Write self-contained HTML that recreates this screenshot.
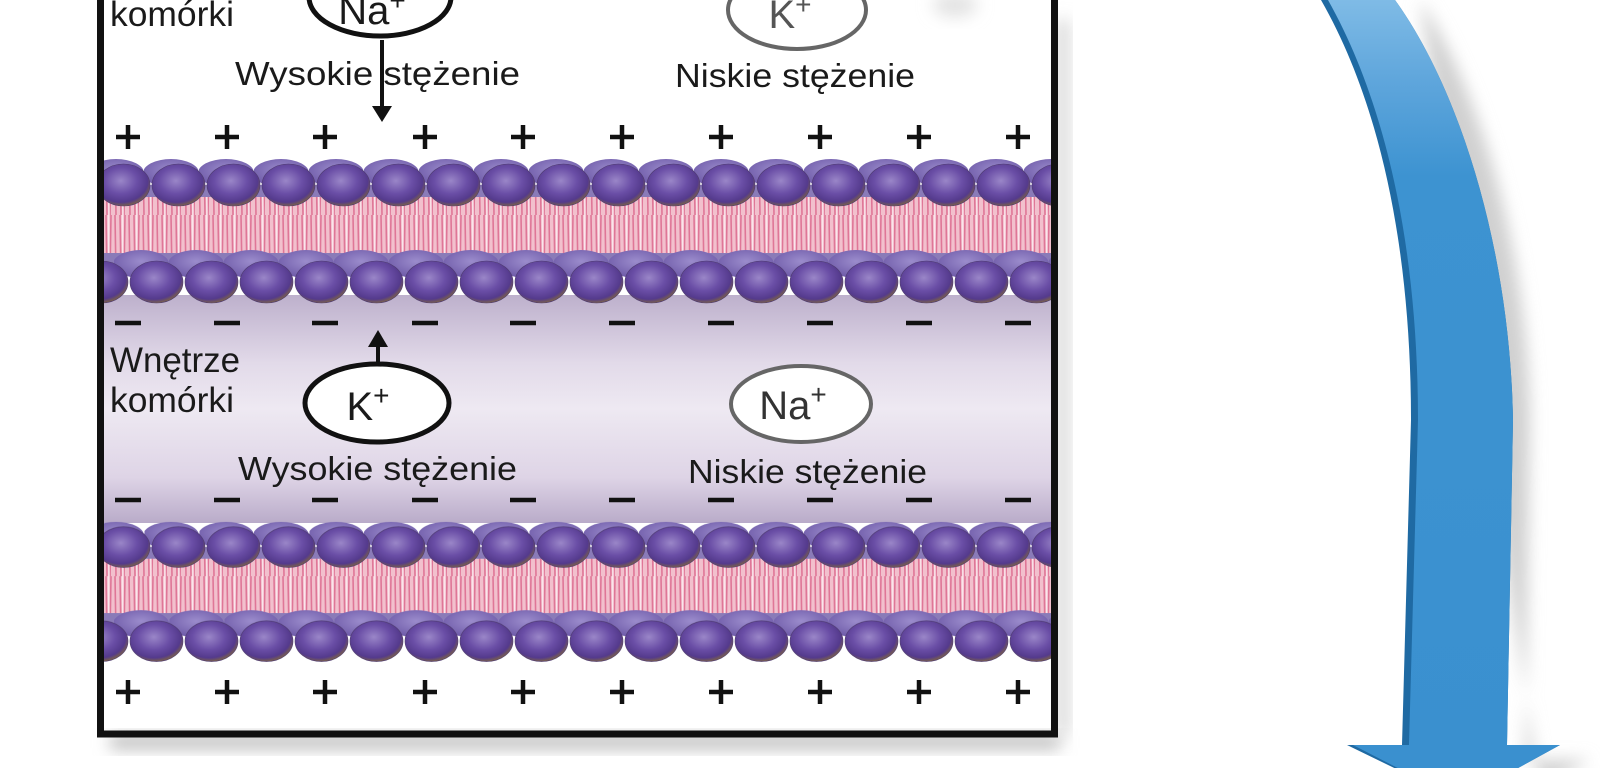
<!DOCTYPE html>
<html><head><meta charset="utf-8"><style>
html,body{margin:0;padding:0;background:#fff;width:1600px;height:768px;overflow:hidden}
svg{display:block}
text{font-family:"Liberation Sans",sans-serif;fill:#1a1a1a}
</style></head><body>
<svg width="1600" height="768" viewBox="0 0 1600 768" xmlns="http://www.w3.org/2000/svg">
<defs>
<radialGradient id="head" cx="0.45" cy="0.4" r="0.62">
<stop offset="0" stop-color="#9a86c8"/><stop offset="0.5" stop-color="#6a4ea6"/><stop offset="0.82" stop-color="#543a8c"/><stop offset="1" stop-color="#80663e"/>
</radialGradient>
<radialGradient id="headb" cx="0.5" cy="0.4" r="0.6">
<stop offset="0" stop-color="#9b8ccc"/><stop offset="1" stop-color="#6e5aa8"/>
</radialGradient>
<linearGradient id="inner" x1="0" y1="0" x2="0" y2="1">
<stop offset="0" stop-color="#bdb0cc"/><stop offset="0.3" stop-color="#e2dae9"/><stop offset="0.5" stop-color="#eee9f2"/><stop offset="0.8" stop-color="#ded4e6"/><stop offset="1" stop-color="#b9abc9"/>
</linearGradient>
<linearGradient id="blue" x1="0" y1="0" x2="0" y2="1">
<stop offset="0" stop-color="#7fbbe6"/><stop offset="0.1" stop-color="#5fa6dc"/><stop offset="0.22" stop-color="#3d93d1"/><stop offset="1" stop-color="#3a90cf"/>
</linearGradient>
<pattern id="tails" x="0" y="0" width="14" height="60" patternUnits="userSpaceOnUse">
<rect width="14" height="60" fill="#f2c0cd"/>
<path d="M2 0 L3 60 M7 0 L6 60 M11 0 L12 60" stroke="#df7697" stroke-width="1.6"/>
<path d="M4.5 0 L5 60" stroke="#fbe6ec" stroke-width="1.5"/>
</pattern>
<pattern id="hb" x="0" y="0" width="55" height="30" patternUnits="userSpaceOnUse">
<ellipse cx="27" cy="15" rx="28" ry="14" fill="url(#headb)"/>
</pattern>
<pattern id="hf" x="0" y="0" width="55" height="46" patternUnits="userSpaceOnUse">
<ellipse cx="27.5" cy="23" rx="26.5" ry="21" fill="url(#head)" stroke="#4d3a6e" stroke-width="0.6"/>
</pattern>
<g id="mem">
<rect x="0" y="30" width="980" height="80" fill="#8a7bb8"/>
<rect x="0" y="42" width="980" height="56" fill="url(#tails)"/>
<rect x="0" y="0" width="990" height="28" fill="url(#hb)" transform="translate(-15,3)"/>
<rect x="0" y="0" width="990" height="46" fill="url(#hf)" transform="translate(-8,7)"/>
<rect x="0" y="0" width="990" height="28" fill="url(#hb)" transform="translate(10,94)"/>
<rect x="0" y="0" width="990" height="46" fill="url(#hf)" transform="translate(-30,104)"/>
</g>
<clipPath id="box"><rect x="104" y="0" width="948" height="730"/></clipPath>
<filter id="blur" x="-50%" y="-50%" width="200%" height="200%"><feGaussianBlur stdDeviation="8"/></filter>
</defs>

<!-- shadows -->
<rect x="110" y="735" width="950" height="14" fill="#bbb" filter="url(#blur)"/>
<rect x="1058" y="20" width="10" height="715" fill="#ccc" filter="url(#blur)"/>
<ellipse cx="955" cy="5" rx="22" ry="12" fill="#e2e2e2" filter="url(#blur)"/>

<g clip-path="url(#box)">
<rect x="104" y="295" width="948" height="228" fill="url(#inner)"/>
<use href="#mem" transform="translate(104,155)"/>
<use href="#mem" transform="translate(104,518) scale(1,0.97)"/>
</g>

<!-- frame -->
<rect x="100.5" y="-10" width="954" height="744" fill="none" stroke="#111" stroke-width="7"/>

<!-- plus/minus -->
<g stroke="#111" stroke-width="4.5">
<path d="M116 137h24M128 125v24 M215 137h24M227 125v24 M313 137h24M325 125v24 M413 137h24M425 125v24 M511 137h24M523 125v24 M610 137h24M622 125v24 M709 137h24M721 125v24 M808 137h24M820 125v24 M907 137h24M919 125v24 M1006 137h24M1018 125v24"/>
<path d="M116 692h24M128 680v24 M215 692h24M227 680v24 M313 692h24M325 680v24 M413 692h24M425 680v24 M511 692h24M523 680v24 M610 692h24M622 680v24 M709 692h24M721 680v24 M808 692h24M820 680v24 M907 692h24M919 680v24 M1006 692h24M1018 680v24"/>
<path d="M115 323h26 M214 323h26 M312 323h26 M412 323h26 M510 323h26 M609 323h26 M708 323h26 M807 323h26 M906 323h26 M1005 323h26"/>
<path d="M115 500h26 M214 500h26 M312 500h26 M412 500h26 M510 500h26 M609 500h26 M708 500h26 M807 500h26 M906 500h26 M1005 500h26"/>
</g>

<!-- top labels -->
<text x="110" y="26" font-size="35" textLength="124" lengthAdjust="spacingAndGlyphs">komórki</text>
<ellipse cx="380" cy="-3" rx="71" ry="39" fill="#fff" stroke="#111" stroke-width="5"/>
<text x="372" y="24" font-size="40" text-anchor="middle">Na<tspan font-size="28" dy="-14">+</tspan></text>
<path d="M382 40V108" stroke="#111" stroke-width="4"/>
<path d="M372 106h20l-10 16z" fill="#111"/>
<rect x="374" y="58" width="5" height="32" fill="#fff"/>
<text x="235" y="85" font-size="33" textLength="285" lengthAdjust="spacingAndGlyphs">Wysokie stężenie</text>

<ellipse cx="797" cy="10" rx="69" ry="39" fill="#fff" stroke="#666" stroke-width="4"/>
<text x="790" y="28" font-size="40" text-anchor="middle" style="fill:#555">K<tspan font-size="28" dy="-14">+</tspan></text>
<text x="675" y="87" font-size="33" textLength="240" lengthAdjust="spacingAndGlyphs">Niskie stężenie</text>

<!-- inner labels -->
<text x="110" y="372" font-size="35" textLength="130" lengthAdjust="spacingAndGlyphs">Wnętrze</text>
<text x="110" y="412" font-size="35" textLength="124" lengthAdjust="spacingAndGlyphs">komórki</text>
<ellipse cx="377" cy="403" rx="72" ry="39" fill="#fff" stroke="#111" stroke-width="5"/>
<text x="368" y="420" font-size="40" text-anchor="middle">K<tspan font-size="28" dy="-15">+</tspan></text>
<path d="M378 364V345" stroke="#111" stroke-width="4"/>
<path d="M368 347h20l-10 -17z" fill="#111"/>
<text x="238" y="480" font-size="33" textLength="279" lengthAdjust="spacingAndGlyphs">Wysokie stężenie</text>

<ellipse cx="801" cy="404" rx="70" ry="38" fill="#fff" stroke="#666" stroke-width="4"/>
<text x="793" y="419" font-size="40" text-anchor="middle" style="fill:#333">Na<tspan font-size="28" dy="-15">+</tspan></text>
<text x="688" y="483" font-size="33" textLength="239" lengthAdjust="spacingAndGlyphs">Niskie stężenie</text>

<!-- blue arrow -->
<path d="M1420 0 C1480 90 1528 250 1530 420 L1525 760 L1590 760 L1540 790 Z" fill="#d0d0d0" filter="url(#blur)"/>
<path d="M1321 0 C1384 110 1411 260 1411 420 L1402 745 L1347 745 L1460 800 L1560 745 L1507 745 L1513 420 C1510 250 1460 90 1395 0 Z" fill="#1f6aa3"/>
<path d="M1328 0 C1390 110 1418 260 1418 420 L1409 745 L1353 745 L1460 800 L1560 745 L1507 745 L1513 420 C1510 250 1460 90 1395 0 Z" fill="url(#blue)"/>
</svg>
</body></html>
